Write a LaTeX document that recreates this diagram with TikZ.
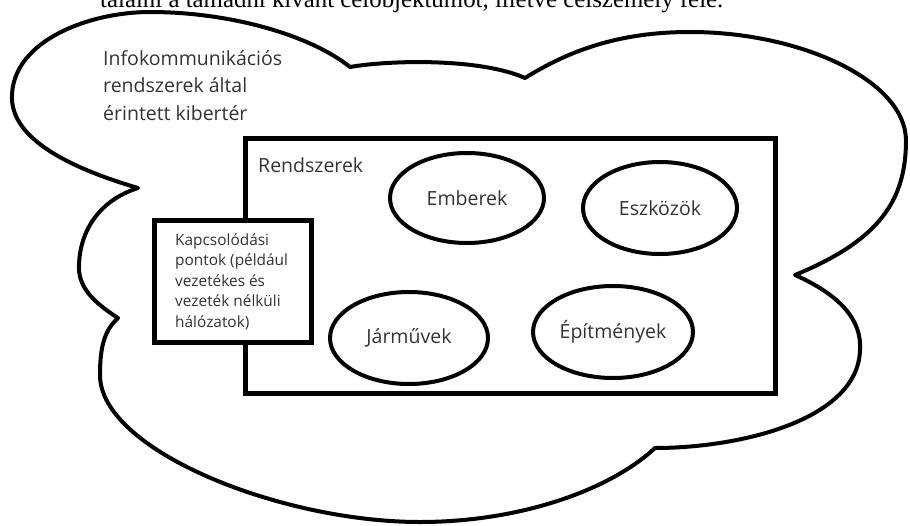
\documentclass[tikz,border=0pt]{standalone}
\usepackage{fontspec}
\setmainfont{Open Sans}
\newfontfamily\topserif{Liberation Serif}
\usetikzlibrary{shapes.geometric}
\begin{document}
\begin{tikzpicture}[x=1pt,y=-1pt,
  outline/.style={draw=black, line width=4pt, line join=round},
  lbl/.style={text=black!80, inner sep=0pt, font=\fontsize{19.5}{27.5}\selectfont},
  smalllbl/.style={text=black!80, inner sep=0pt, align=left, font=\fontsize{15.4}{20.5}\selectfont},
  blob/.style={ellipse, draw=black, line width=4pt, inner sep=0pt, text=black!80, font=\fontsize{19.5}{24}\selectfont},
  frame/.style={draw=black, line width=5pt, inner sep=0pt},
]
\useasboundingbox (0,0) rectangle (910,525);
\clip (0,0) rectangle (910,525);
% cropped caption line at the top
\node[anchor=base west, inner sep=0pt, font=\topserif\fontsize{22}{26}\selectfont] (intro) at (100,7.5)
  {\resizebox{623pt}{!}{találni a támadni kívánt célobjektumot, illetve célszemély felé.}};
% cloud
\draw[outline] (138,188) .. controls (60,165) and (10,135) .. (12,95)
 .. controls (14,40) and (90,12) .. (150,12)
 .. controls (230,12) and (310,35) .. (350,67)
 .. controls (390,60) and (480,58) .. (525,78)
 .. controls (570,50) and (620,32) .. (690,32)
 .. controls (800,32) and (905,80) .. (906,140)
 .. controls (906,200) and (880,240) .. (795,275)
 .. controls (840,295) and (862,320) .. (860,350)
 .. controls (858,420) and (740,448) .. (655,448)
 .. controls (610,490) and (520,522) .. (420,522)
 .. controls (280,522) and (100,450) .. (100,375)
 .. controls (100,345) and (105,330) .. (118,318)
 .. controls (90,300) and (78,285) .. (79,265)
 .. controls (80,230) and (100,200) .. (138,188) -- cycle;
\node[lbl, anchor=base west, align=left] (cyber) at (103,120)
  {Infokommunikációs\\rendszerek által\\érintett kibertér};
% systems frame
\node[frame, minimum width=530pt, minimum height=255pt] (sys) at (510,265.5) {};
\node[lbl, anchor=base west] (systitle) at (258,172) {Rendszerek};
\node[blob, minimum width=154pt, minimum height=90pt] (emberek) at (467,198) {Emberek};
\node[blob, minimum width=154pt, minimum height=92pt] (eszkozok) at (660,208) {Eszközök};
\node[blob, minimum width=158pt, minimum height=92pt] (jarmuvek) at (409,338) {Járművek};
\node[blob, minimum width=160pt, minimum height=92pt] (epitmenyek) at (613,332) {Építmények};
% connection points box
\node[frame, fill=white, minimum width=157pt, minimum height=122pt] (kapcs) at (232.5,281) {};
\node[smalllbl, anchor=base west] (kapcstext) at (175,327)
  {Kapcsolódási\\pontok (például\\vezetékes és\\vezeték nélküli\\hálózatok)};
\end{tikzpicture}
\end{document}
